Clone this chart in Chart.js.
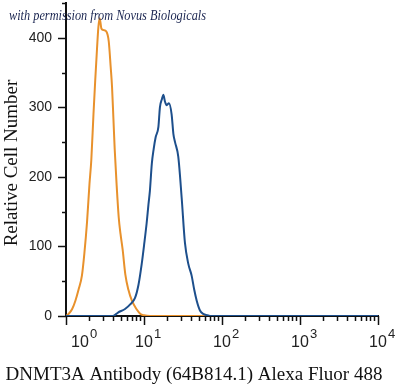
<!DOCTYPE html>
<html>
<head>
<meta charset="utf-8">
<script src="https://cdn.jsdelivr.net/npm/chart.js@4.4.1/dist/chart.umd.min.js"></script>
<style>
  html, body { margin: 0; padding: 0; background: #fff; }
  #wrap { width: 400px; height: 384px; position: relative; }
</style>
</head>
<body>
<div id="wrap"><canvas id="histChart" width="400" height="384"></canvas></div>
<script>
// isotype (orange) histogram
const isoX = [1, 1.08, 1.2, 1.32, 1.45, 1.6, 1.72, 1.86, 2.0, 2.11, 2.25, 2.37, 2.5, 2.6, 2.7, 2.85, 3.04, 3.29, 3.53, 3.74, 3.89, 4.05, 4.21, 4.45, 4.74, 5.0, 5.33, 5.76, 6.3, 7.0, 8.0, 9.0, 10, 12, 100];
const isoY = [0, 3, 10, 22, 38, 58, 90, 135, 190, 224, 290, 339, 385, 415, 428, 413, 411, 409, 395, 358, 330, 285, 240, 190, 142, 118, 95, 60, 38, 22, 10, 3, 1, 0, 0];

// DNMT3A stained (blue) histogram
const dnmtX = [1, 4.0, 4.64, 5.71, 6.7, 7.67, 8.5, 9.35, 10.1, 10.8, 11.4, 11.9, 12.6, 13.3, 14.1, 15.3, 16.0, 17.0, 17.7, 18.6, 19.5, 20.9, 22.6, 23.8, 25.0, 27.5, 30.4, 33.5, 37, 40.8, 44, 47.4, 52.2, 57.5, 65, 70, 10000];
const dnmtY = [0, 0, 5, 10, 17, 26, 45, 75, 105, 133, 160, 180, 219, 240, 257, 272, 300, 312, 318, 308, 303, 306, 290, 262, 250, 229, 170, 105, 75, 58, 38, 22, 8, 3, 1, 0, 0];

const yTicks = [0, 100, 200, 300, 400];
const xDecades = [0, 1, 2, 3, 4];

const toPts = (xs, ys) => xs.map((x, i) => ({ x: x, y: ys[i] }));

// 軸の目盛り・ラベル・タイトル
const axisDecor = {
  id: 'axisDecor',
  afterDraw(chart) {
    const c = chart.ctx;
    const xs = chart.scales.x, ys = chart.scales.y;
    const base = ys.getPixelForValue(0);
    const left = xs.getPixelForValue(1);
    c.save();
    c.strokeStyle = '#111';
    c.lineWidth = 1.5;
    // y ticks
    for (let v = 0; v <= 450; v += 50) {
      const py = Math.round(ys.getPixelForValue(v)) + 0.5;
      const len = v % 100 === 0 ? 8 : 4;
      c.beginPath(); c.moveTo(left - len, py); c.lineTo(left, py); c.stroke();
    }
    // x ticks
    xDecades.forEach(d => {
      for (let m = 1; m <= 9; m++) {
        if (d === 4 && m > 1) break;
        const px = Math.round(xs.getPixelForValue(m * Math.pow(10, d))) + 0.5;
        const len = m === 1 ? 9 : 5;
        c.beginPath(); c.moveTo(px, base); c.lineTo(px, base + len); c.stroke();
      }
    });
    // x tick labels 10^n
    c.fillStyle = '#222';
    c.textBaseline = 'alphabetic';
    xDecades.forEach(d => {
      let px = xs.getPixelForValue(Math.pow(10, d));
      if (d === 0) px += 14;
      c.font = '16px "Liberation Sans", Arial, sans-serif';
      c.textAlign = 'center';
      c.fillText('10', px, 347);
      const w = c.measureText('10').width;
      c.font = '13px "Liberation Sans", Arial, sans-serif';
      c.textAlign = 'left';
      c.fillText(String(d), px + w / 2 + 1, 338);
    });
    // axis titles
    c.fillStyle = '#111';
    c.font = '19px "Liberation Serif", "Times New Roman", serif';
    c.textAlign = 'center';
    c.fillText('DNMT3A Antibody (64B814.1) Alexa Fluor 488', 194, 380);
    c.save();
    c.translate(17, 163);
    c.rotate(-Math.PI / 2);
    c.fillText('Relative Cell Number', 0, 0);
    c.restore();
    // watermark
    c.save();
    c.fillStyle = '#1a2550';
    c.font = 'italic 12.3px "Liberation Serif", serif';
    c.textAlign = 'left';
    c.translate(9, 20);
    c.scale(1, 1.25);
    c.fillText('with permission from Novus Biologicals', 0, 0);
    c.restore();
    c.restore();
  }
};

new Chart(document.getElementById('histChart'), {
  type: 'line',
  data: {
    datasets: [
      {
        label: 'DNMT3A',
        data: toPts(dnmtX, dnmtY),
        borderColor: '#1d4f8c',
        borderWidth: 2,
        pointRadius: 0,
        cubicInterpolationMode: 'monotone',
        fill: false
      },
      {
        label: 'Isotype',
        data: toPts(isoX, isoY),
        borderColor: '#e8912c',
        borderWidth: 2,
        pointRadius: 0,
        cubicInterpolationMode: 'monotone',
        fill: false
      }
    ]
  },
  options: {
    responsive: false,
    animation: false,
    layout: { padding: { left: 0, right: 22, top: 3, bottom: 0 } },
    plugins: {
      legend: { display: false },
      tooltip: { enabled: false }
    },
    scales: {
      x: {
        type: 'logarithmic',
        min: 1,
        max: 10000,
        grid: { display: false, drawTicks: false },
        border: { display: true, color: '#111', width: 2 },
        ticks: { display: false },
        afterFit: s => { s.height = 68; s.paddingLeft = 0; s.paddingRight = 0; }
      },
      y: {
        min: 0,
        max: 450,
        grid: { display: false, drawTicks: false },
        border: { display: true, color: '#111', width: 2 },
        ticks: {
          stepSize: 50,
          padding: 14,
          color: '#222',
          font: { family: '"Liberation Sans", Arial, sans-serif', size: 14 },
          callback: v => (yTicks.includes(v) ? String(v) : '')
        },
        afterFit: s => { s.width = 66; s.paddingTop = 0; s.paddingBottom = 0; }
      }
    }
  },
  plugins: [axisDecor]
});
</script>
</body>
</html>
